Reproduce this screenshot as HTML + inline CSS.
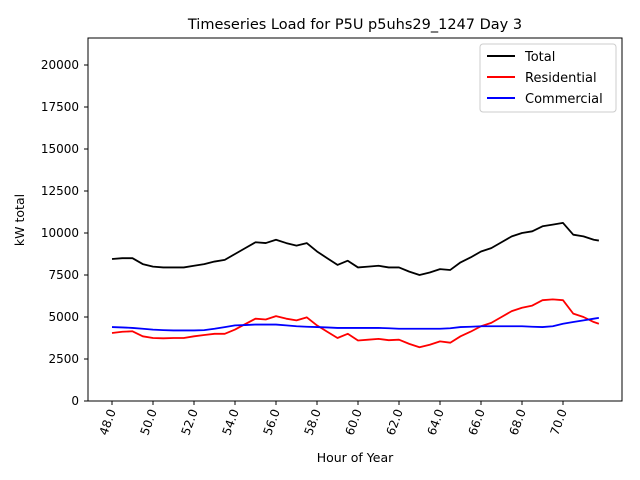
<!DOCTYPE html>
<html><head><meta charset="utf-8"><style>body{margin:0;background:#fff}svg{display:block;font-family:"DejaVu Sans","Liberation Sans",sans-serif}</style></head>
<body>
<svg id="chart" width="640" height="480"></svg>
<script>
const hours=[48,48.5,49,49.5,50,50.5,51,51.5,52,52.5,53,53.5,54,54.5,55,55.5,56,56.5,57,57.5,58,58.5,59,59.5,60,60.5,61,61.5,62,62.5,63,63.5,64,64.5,65,65.5,66,66.5,67,67.5,68,68.5,69,69.5,70,70.5,71,71.5,71.75];
const totalLoad=[8450,8500,8500,8150,8000,7950,7950,7950,8050,8150,8300,8400,8750,9100,9450,9400,9600,9400,9250,9400,8900,8500,8100,8350,7950,8000,8050,7950,7950,7700,7500,7650,7850,7800,8250,8550,8900,9100,9450,9800,10000,10100,10400,10500,10600,9900,9800,9600,9550];
const residentialLoad=[4050,4120,4150,3850,3750,3730,3750,3750,3850,3930,4000,4000,4250,4580,4900,4850,5050,4900,4800,4980,4500,4120,3750,4000,3600,3650,3700,3620,3650,3400,3200,3350,3550,3470,3850,4130,4450,4650,5000,5350,5550,5680,6000,6050,6000,5200,5000,4700,4600];
const commercialLoad=[4400,4380,4350,4300,4250,4220,4200,4200,4200,4220,4300,4400,4500,4520,4550,4550,4550,4500,4450,4420,4400,4380,4350,4350,4350,4350,4350,4330,4300,4300,4300,4300,4300,4330,4400,4420,4450,4450,4450,4450,4450,4420,4400,4450,4600,4700,4800,4900,4950];
const yTicks=[0,2500,5000,7500,10000,12500,15000,17500,20000];
const xTicks=[48,50,52,54,56,58,60,62,64,66,68,70];

const NS="http://www.w3.org/2000/svg",svg=document.getElementById('chart');
const L=88,R=622,T=38,B=401;
const xs=h=>112+(h-48)*20.5;
const ys=v=>B-v/2500*42;
function mk(tag,at,txt){const e=document.createElementNS(NS,tag);for(const k in at)e.setAttribute(k,at[k]);if(txt!==undefined)e.textContent=txt;svg.appendChild(e);return e;}
let e;
e=mk('rect',{x:L,y:T,width:R-L,height:B-T,fill:'none',stroke:'#000','stroke-width':1});


yTicks.forEach(v=>{const y=ys(v);
 e=mk('line',{x1:L-4,x2:L,y1:y,y2:y,stroke:'#000'});
 
 
 e=mk('text',{x:L-9,y:y+4,'text-anchor':'end','font-size':12},String(v));
 
 
});
xTicks.forEach(h=>{const x=xs(h);
 e=mk('line',{x1:x,x2:x,y1:B,y2:B+4,stroke:'#000'});
 
 
 e=mk('text',{x:x+4,y:B+10,'text-anchor':'end','font-size':12,transform:`rotate(-70 ${x+4} ${B+10})`},h.toFixed(1));
 
 
});
function line(vals,color,name){
 e=mk('polyline',{points:vals.map((v,i)=>xs(hours[i])+','+ys(v)).join(' '),fill:'none',stroke:color,'stroke-width':1.8,'stroke-linejoin':'round'});
 
 
}
line(totalLoad,'#000','total-line');
line(residentialLoad,'#f00','residential-line');
line(commercialLoad,'#00f','commercial-line');
e=mk('text',{x:355,y:29,'text-anchor':'middle','font-size':14.5},'Timeseries Load for P5U p5uhs29_1247  Day 3');


e=mk('text',{x:355,y:462,'text-anchor':'middle','font-size':12.5},'Hour of Year');


e=mk('text',{x:0,y:0,'text-anchor':'middle','font-size':12.5,transform:'translate(24 220) rotate(-90)'},'kW total');


e=mk('rect',{x:480,y:44,width:136,height:68,rx:3,fill:'#fff','fill-opacity':0.8,stroke:'#ccc'});


[['Total','#000'],['Residential','#f00'],['Commercial','#00f']].forEach((d,i)=>{const y=56+i*21;
 e=mk('line',{x1:487,x2:515,y1:y,y2:y,stroke:d[1],'stroke-width':2});
 
 
 e=mk('text',{x:525,y:y+5,'font-size':13},d[0]);
 
 
});
</script>
</body></html>
